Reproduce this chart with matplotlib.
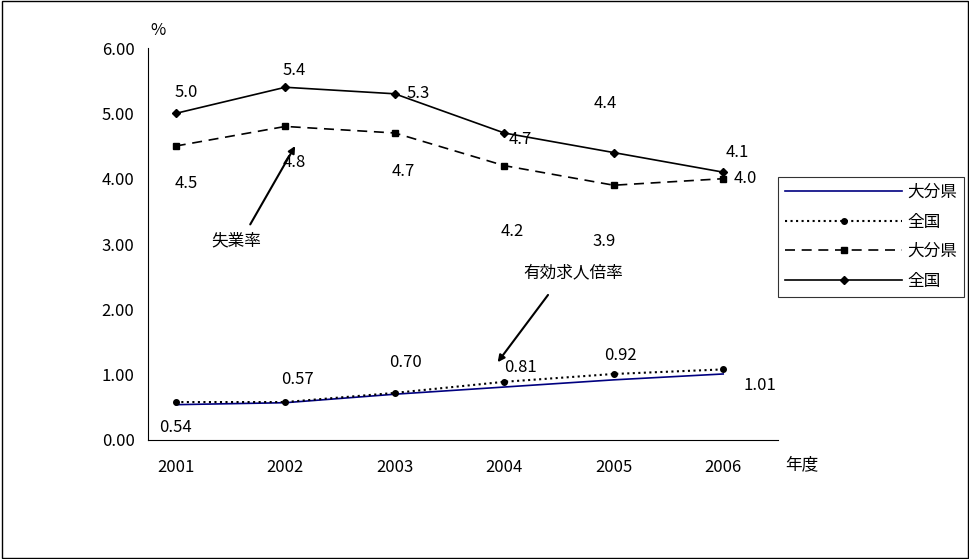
import matplotlib.pyplot as plt
from matplotlib.patches import Rectangle

plt.rcParams['font.family'] = ['Noto Sans CJK JP', 'DejaVu Sans']

years = ['2001', '2002', '2003', '2004', '2005', '2006']
unemp_zenkoku = [5.0, 5.4, 5.3, 4.7, 4.4, 4.1]
unemp_oita = [4.5, 4.8, 4.7, 4.2, 3.9, 4.0]
job_oita = [0.54, 0.57, 0.70, 0.81, 0.92, 1.01]
job_zenkoku = [0.58, 0.58, 0.72, 0.89, 1.01, 1.08]

# label offsets in pixels
off_uz = [(10, 21), (9, 17), (23, 0), (16, -7), (-8, 49), (14, 20)]
off_uo = [(10, -37), (9, -36), (9, -39), (8, -66), (-10, -56), (22, 0)]
off_jo = [(0, -23), (12, 23), (11, 32), (16, 20), (7, 24), (37, -12)]

fig = plt.figure(figsize=(9.7, 5.59), dpi=100)
fig.patches.append(Rectangle((0.002, 0.002), 0.996, 0.996, transform=fig.transFigure,
                             fill=False, ec='black', lw=1))
ax = fig.add_axes([0.153, 0.213, 0.649, 0.701])
x = range(len(years))

l1, = ax.plot(x, job_oita, color='#000080', lw=1.2, label='大分県')
l2, = ax.plot(x, job_zenkoku, color='black', ls=':', lw=1.5, marker='o', ms=4, label='全国')
l3, = ax.plot(x, unemp_oita, color='black', ls=(0, (6, 4)), lw=1.2, marker='s', ms=4, label='大分県')
l4, = ax.plot(x, unemp_zenkoku, color='black', lw=1.2, marker='D', ms=4, label='全国')

def put(vals, offs, fmt):
    for i, (v, o) in enumerate(zip(vals, offs)):
        ax.annotate(fmt % v, (i, v), xytext=o, textcoords='offset pixels',
                    ha='center', va='center', fontsize=12)

put(unemp_zenkoku, off_uz, '%.1f')
put(unemp_oita, off_uo, '%.1f')
put(job_oita, off_jo, '%.2f')

ax.set_xlim(-0.25, 5.5)
ax.set_ylim(0, 6)
ax.set_yticks([0, 1, 2, 3, 4, 5, 6])
ax.set_yticklabels(['%.2f' % v for v in range(7)])
ax.set_xticks(list(x))
ax.set_xticklabels(years)
ax.tick_params(labelsize=12, length=0, pad=10)
ax.tick_params(axis='x', pad=14)
for s in ['top', 'right']:
    ax.spines[s].set_visible(False)

ax.text(0.55, 3.04, '失業率', fontsize=12, ha='center', va='center')
ax.annotate('', xy=(1.09, 4.5), xytext=(0.68, 3.3),
            arrowprops=dict(arrowstyle='-|>', color='black', lw=1.5, shrinkA=0, shrinkB=0))
ax.text(3.63, 2.56, '有効求人倍率', fontsize=12, ha='center', va='center')
ax.annotate('', xy=(2.94, 1.19), xytext=(3.4, 2.22),
            arrowprops=dict(arrowstyle='-|>', color='black', lw=1.5, shrinkA=0, shrinkB=0))

fig.text(0.155, 0.945, '%', fontsize=12, ha='left', va='center')
fig.text(0.81, 0.168, '年度', fontsize=12, ha='left', va='center')

leg = fig.legend(handles=[l1, l2, l3, l4], loc='upper left', bbox_to_anchor=(0.802, 0.684),
                 fontsize=12, frameon=True, fancybox=False, edgecolor='black',
                 handlelength=7, borderpad=0.45, labelspacing=0.75, handletextpad=0.3,
                 borderaxespad=0)
leg.get_frame().set_linewidth(0.8)

fig.savefig('out.png')
